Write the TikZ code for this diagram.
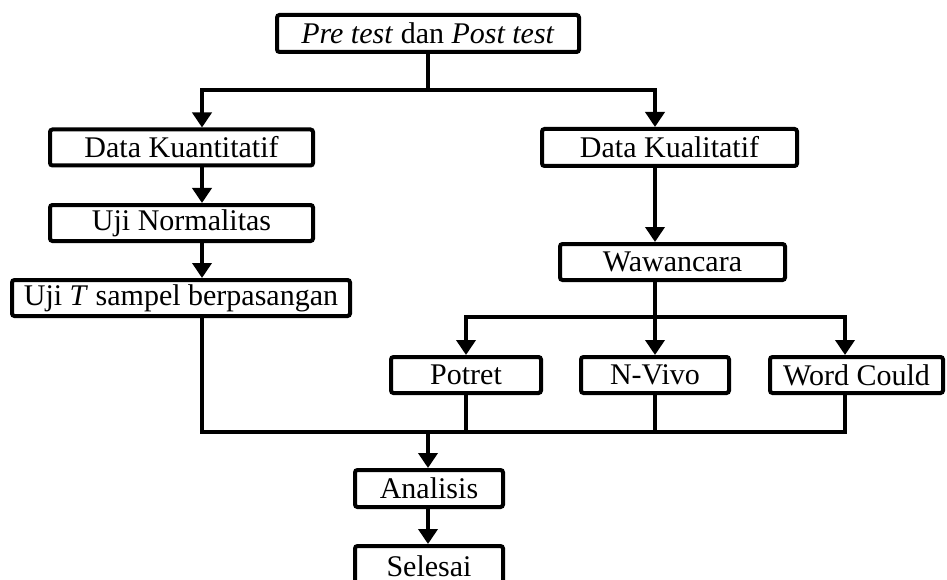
\documentclass[tikz,border=0pt]{standalone}
\usepackage{fontspec}
\setmainfont{Liberation Serif}
\usetikzlibrary{arrows.meta}

\begin{document}
\begin{tikzpicture}[x=1pt,y=-1pt,
  box/.style={draw, line width=4pt, rounded corners=2.5pt, inner sep=0pt,
    font=\fontsize{30}{36}\selectfont, anchor=center},
  link/.style={line width=4pt},
  arr/.style={line width=4pt, -{Triangle[width=19pt,length=15pt]}}]
  \useasboundingbox (0,0) rectangle (947,580);

  % boxes
  \node[box, minimum width=302pt, minimum height=37pt] (top) at (428,33.5) {\textit{Pre test} dan \textit{Post test}};
  \node[box, minimum width=263pt, minimum height=36pt] (dkuan) at (181.5,147.5) {Data Kuantitatif};
  \node[box, minimum width=263pt, minimum height=36pt] (norm) at (181.5,223) {Uji Normalitas};
  \node[box, minimum width=338pt, minimum height=36pt] (ujit) at (181,298) {Uji \textit{T} sampel berpasangan};
  \node[box, minimum width=255pt, minimum height=37pt] (dkual) at (669.5,147.5) {Data Kualitatif};
  \node[box, minimum width=225pt, minimum height=36pt] (waw) at (672.5,262) {Wawancara};
  \node[box, minimum width=150pt, minimum height=36pt] (potret) at (466,375) {Potret};
  \node[box, minimum width=148pt, minimum height=36pt] (nvivo) at (655,375) {N-Vivo};
  \node[box, minimum width=173pt, minimum height=36pt] (word) at (856.5,375) {Word Could};
  \node[box, minimum width=148pt, minimum height=37pt] (anl) at (429,488.5) {Analisis};
  \node[box, minimum width=148pt, minimum height=40pt] (sel) at (429,566) {Selesai};

  % junction points
  \coordinate (split) at (428,90);
  \coordinate (jl) at (202,90);
  \coordinate (jr) at (655,90);
  \coordinate (wsplit) at (655,317);
  \coordinate (wl) at (466,317);
  \coordinate (wr) at (845,317);
  \coordinate (bl) at (202,432);
  \coordinate (br) at (845,432);
  \coordinate (bm) at (428,432);

  % top split
  \draw[link] (top.south) -- (split);
  \draw[arr] (split) -- (jl) -- (jl |- dkuan.north);
  \draw[arr] (split) -- (jr) -- (jr |- dkual.north);

  % quantitative branch
  \draw[arr] (jl |- dkuan.south) -- (jl |- norm.north);
  \draw[arr] (jl |- norm.south) -- (jl |- ujit.north);

  % qualitative branch
  \draw[arr] (jr |- dkual.south) -- (jr |- waw.north);
  \draw[link] (jr |- waw.south) -- (wsplit);
  \draw[arr] (wsplit) -- (wl) -- (wl |- potret.north);
  \draw[arr] (wsplit) -- (nvivo.north);
  \draw[arr] (wsplit) -- (wr) -- (wr |- word.north);

  % merge into analysis
  \draw[link] (bl |- ujit.south) -- (bl) -- (br) -- (br |- word.south);
  \draw[link] (potret.south) -- (potret.south |- bl);
  \draw[link] (nvivo.south) -- (nvivo.south |- bl);
  \draw[arr] (bm) -- (bm |- anl.north);
  \draw[arr] (bm |- anl.south) -- (bm |- sel.north);
\end{tikzpicture}
\end{document}
